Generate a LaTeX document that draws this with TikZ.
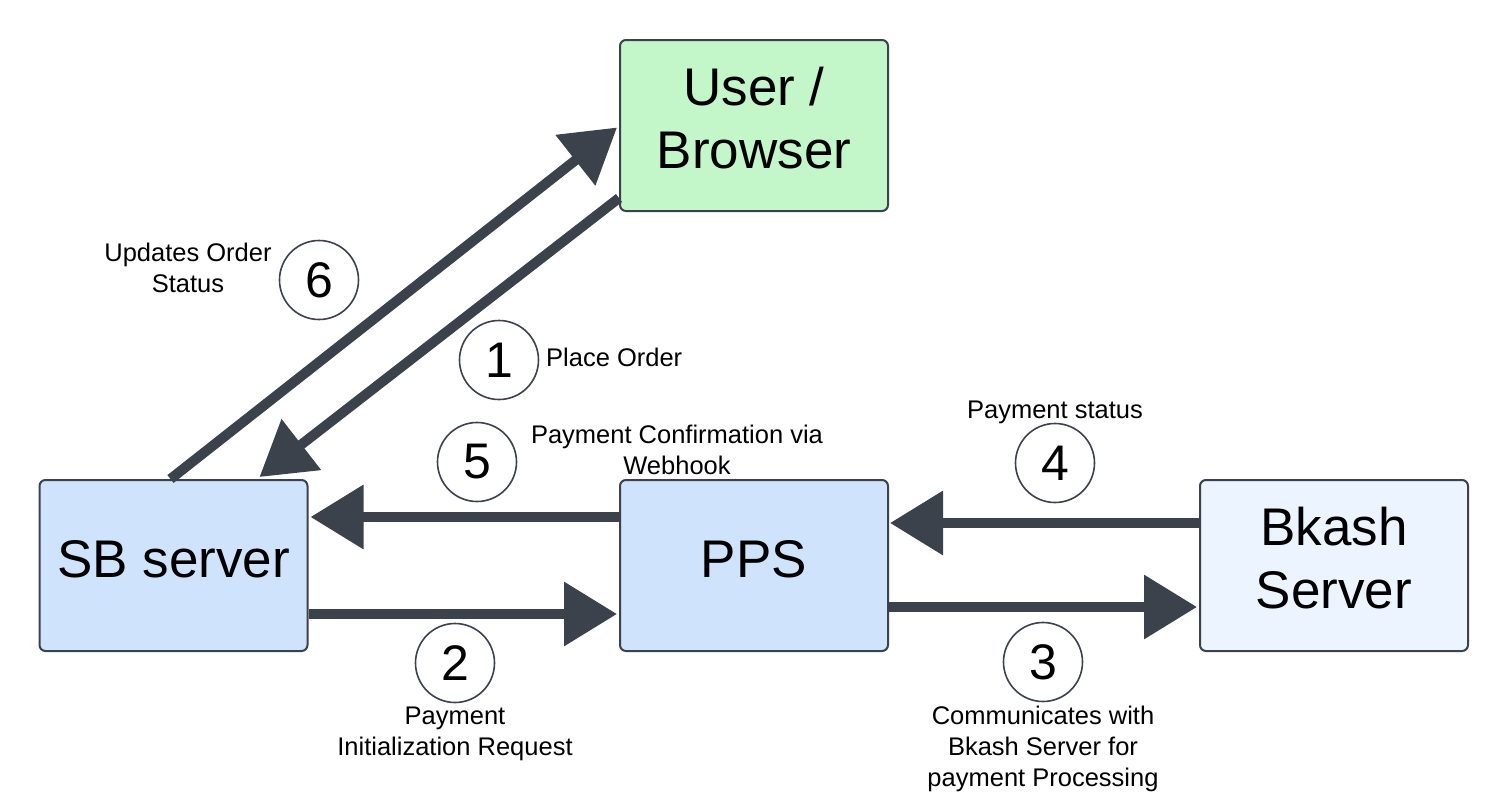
\documentclass[tikz,border=0pt]{standalone}
\usepackage{fontspec}
\setmainfont{Liberation Sans}
\usetikzlibrary{arrows.meta}
\definecolor{edge}{HTML}{3B424C}
\definecolor{greenfill}{HTML}{C3F6C8}
\definecolor{bluefill}{HTML}{CFE3FD}
\definecolor{lightfill}{HTML}{ECF4FF}
\newcommand\boxtext[1]{\raisebox{1pt}[\height][\depth]{\begin{tabular}{@{}c@{}}#1\end{tabular}}}
\tikzset{
  box/.style={draw=edge, line width=2pt, rounded corners=6pt, minimum width=268pt, minimum height=171pt, align=center, inner sep=0pt, font=\fontsize{53}{63}\selectfont},
  flow/.style={draw=edge, line width=10pt, -{Triangle[length=53pt,width=62pt]}},
  num/.style={draw=edge, line width=1.6pt, circle, minimum size=79pt, inner sep=0pt, font=\fontsize{50}{60}\selectfont},
  lbl/.style={align=center, inner sep=0pt, font=\fontsize{25.5}{31}\selectfont}
}
\begin{document}
\begin{tikzpicture}[x=1pt,y=-1pt]
\useasboundingbox (0,0) rectangle (1508,804);
\node[box, fill=greenfill] (user) at (754,125.5) {\boxtext{User /\\Browser}};
\node[box, fill=bluefill] (sb) at (173.5,565.5) {\boxtext{SB server}};
\node[box, fill=bluefill] (pps) at (754,565.5) {\boxtext{PPS}};
\node[box, fill=lightfill] (bk) at (1334,565.5) {\boxtext{Bkash\\Server}};

\draw[flow] ([xshift=-3pt]sb.north) -- ([xshift=-2pt,yshift=-2pt]user.west);
\draw[flow] ([yshift=14pt]user.south west) -- ([xshift=-49pt,yshift=2pt]sb.north east);
\draw[flow] ([yshift=48.5pt]pps.west) -- ([xshift=2pt,yshift=48.5pt]sb.east);
\draw[flow] ([yshift=-48.5pt]sb.east) -- ([xshift=-2pt,yshift=-48.5pt]pps.west);
\draw[flow] ([yshift=42.5pt]bk.west) -- ([xshift=1pt,yshift=42.5pt]pps.east);
\draw[flow] ([yshift=-41.5pt]pps.east) -- ([xshift=-2pt,yshift=-41.5pt]bk.west);

\node[num] (n6) at (319,280) {6};
\node[num] (n1) at (499,360) {1};
\node[num] (n5) at (477,462) {5};
\node[num] (n4) at (1055,463) {4};
\node[num] (n2) at (455,663) {2};
\node[num] (n3) at (1043,662) {3};

\node[lbl] (l6) at (188,268) {Updates Order\\Status};
\node[lbl, anchor=west] (l1) at (546,357) {Place Order};
\node[lbl] (l5) at (677,450) {Payment Confirmation via\\Webhook};
\node[lbl] (l4) at (1055,412) {Payment status};
\node[lbl] (l2) at (455,734) {Payment\\Initialization Request};
\node[lbl] (l3) at (1043,749) {Communicates with\\Bkash Server for\\payment Processing};
\end{tikzpicture}
\end{document}
